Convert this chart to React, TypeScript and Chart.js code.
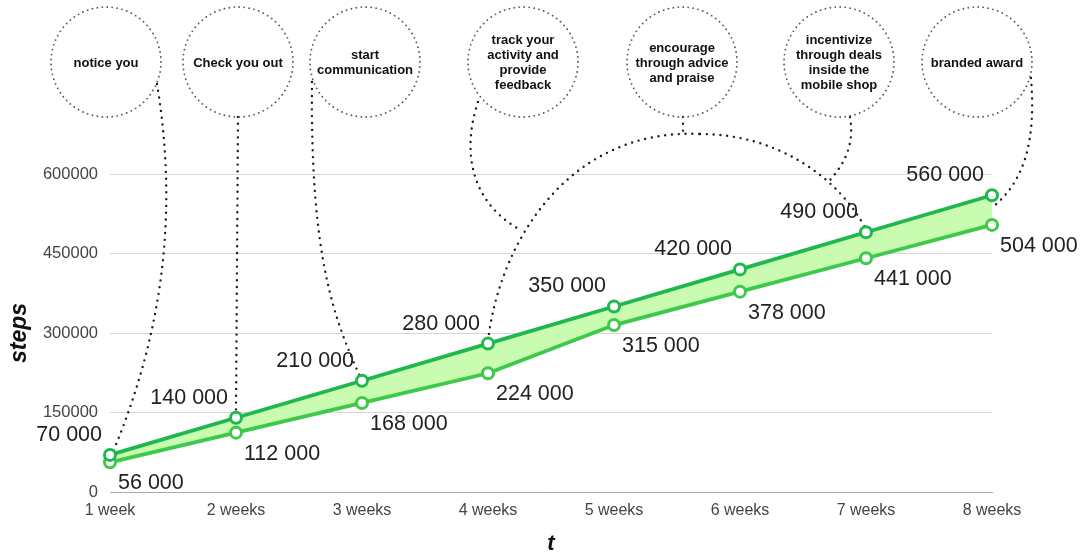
import React, { useEffect, useRef } from "react";
import { Chart, registerables } from "chart.js";

Chart.register(...registerables);

// ---- data ----
const weeks = ["1 week", "2 weeks", "3 weeks", "4 weeks", "5 weeks", "6 weeks", "7 weeks", "8 weeks"];
const stepsHigh = [70000, 140000, 210000, 280000, 350000, 420000, 490000, 560000];
const stepsLow = [56000, 112000, 168000, 224000, 315000, 378000, 441000, 504000];
const yTickStep = 150000;
const yMax = 600000;

const stageTexts: string[][] = [
  ["notice you"],
  ["Check you out"],
  ["start", "communication"],
  ["track your", "activity and", "provide", "feedback"],
  ["encourage", "through advice", "and praise"],
  ["incentivize", "through deals", "inside the", "mobile shop"],
  ["branded award"],
];

// ---- layout of the stage bubbles (canvas pixels) ----
const bubbleCenters = [106, 238, 365, 523, 682, 839, 977];
const bubbleY = 62;
const bubbleR = 55;

const FONT = "'Liberation Sans', Arial, Helvetica, sans-serif";
const HIGH_COLOR = "#1fb84f";
const LOW_COLOR = "#3dc94a";
const BAND_COLOR = "#c9fbb0";

const fmt = (n: number) => String(n).replace(/\B(?=(\d{3})+(?!\d))/g, " ");

const journeyPlugin = {
  id: "journey",
  beforeDatasetsDraw(chart: any) {
    const hi = chart.getDatasetMeta(0).data;
    const lo = chart.getDatasetMeta(1).data;
    const ctx: CanvasRenderingContext2D = chart.ctx;
    ctx.save();
    ctx.strokeStyle = "#1c1c1c";
    ctx.lineWidth = 2.4;
    ctx.lineCap = "round";
    ctx.setLineDash([0, 6.8]);

    const curve = (pts: number[]) => {
      ctx.beginPath();
      ctx.moveTo(pts[0], pts[1]);
      ctx.bezierCurveTo(pts[2], pts[3], pts[4], pts[5], pts[6], pts[7]);
      ctx.stroke();
    };
    const line = (x0: number, y0: number, x1: number, y1: number) => {
      ctx.beginPath();
      ctx.moveTo(x0, y0);
      ctx.lineTo(x1, y1);
      ctx.stroke();
    };

    // notice you -> week 1
    curve([157, 84, 176, 200, 168, 320, hi[0].x + 3, hi[0].y - 3]);
    // check you out -> week 2
    line(bubbleCenters[1], bubbleY + bubbleR, hi[1].x, hi[1].y - 4);
    // start communication -> week 3
    curve([312, 82, 310, 260, 335, 320, hi[2].x - 2, hi[2].y - 4]);
    // track & feedback -> joins the arc
    curve([478, 102, 462, 150, 470, 200, 517, 228]);
    // big arc: week 4 -> peak -> week 7
    curve([hi[3].x, hi[3].y - 3, 500, 240, 570, 128, 700, 134]);
    curve([700, 134, 780, 134, 840, 180, hi[6].x, hi[6].y - 3]);
    // encourage -> arc
    line(683, bubbleY + bubbleR, 683, 134);
    // incentivize -> arc
    curve([850, 117, 854, 140, 848, 160, 830, 180]);
    // branded award -> between the two week-8 points
    curve([1031, 78, 1036, 140, 1025, 180, hi[7].x + 2, (hi[7].y + lo[7].y) / 2 - 4]);
    ctx.restore();
  },
  afterDatasetsDraw(chart: any) {
    const hi = chart.getDatasetMeta(0).data;
    const lo = chart.getDatasetMeta(1).data;
    const ctx: CanvasRenderingContext2D = chart.ctx;
    ctx.save();
    ctx.font = `21.5px ${FONT}`;
    ctx.fillStyle = "#222";
    ctx.textBaseline = "middle";
    ctx.textAlign = "right";
    stepsHigh.forEach((v, i) => ctx.fillText(fmt(v), hi[i].x - 8, hi[i].y - 20));
    ctx.textAlign = "left";
    stepsLow.forEach((v, i) => ctx.fillText(fmt(v), lo[i].x + 8, lo[i].y + 21));
    ctx.restore();
  },
  afterDraw(chart: any) {
    const ctx: CanvasRenderingContext2D = chart.ctx;
    ctx.save();
    ctx.strokeStyle = "#5a5a5a";
    ctx.lineWidth = 1.9;
    ctx.lineCap = "round";
    ctx.setLineDash([0, 5]);
    bubbleCenters.forEach((cx) => {
      ctx.beginPath();
      ctx.arc(cx, bubbleY, bubbleR, 0, Math.PI * 2);
      ctx.stroke();
    });
    ctx.setLineDash([]);
    ctx.fillStyle = "#111";
    ctx.font = `bold 13px ${FONT}`;
    ctx.textAlign = "center";
    ctx.textBaseline = "middle";
    stageTexts.forEach((lines, i) => {
      const lh = 15;
      const y0 = bubbleY + 1 - ((lines.length - 1) * lh) / 2;
      lines.forEach((t, j) => ctx.fillText(t, bubbleCenters[i], y0 + j * lh));
    });
    ctx.restore();
  },
};

export default function App() {
  const canvasRef = useRef<HTMLCanvasElement | null>(null);

  useEffect(() => {
    if (!canvasRef.current) return;
    const chart = new Chart(canvasRef.current, {
      type: "line",
      data: {
        labels: weeks,
        datasets: [
          {
            label: "steps",
            data: stepsHigh,
            borderColor: HIGH_COLOR,
            backgroundColor: BAND_COLOR,
            borderWidth: 3.8,
            fill: "+1",
            pointRadius: 5.5,
            pointBorderWidth: 3,
            pointBackgroundColor: "#fff",
            pointBorderColor: HIGH_COLOR,
            tension: 0,
            clip: false as any,
          },
          {
            label: "steps (low)",
            data: stepsLow,
            borderColor: LOW_COLOR,
            backgroundColor: BAND_COLOR,
            borderWidth: 3.8,
            fill: false,
            pointRadius: 5.5,
            pointBorderWidth: 3,
            pointBackgroundColor: "#fff",
            pointBorderColor: LOW_COLOR,
            tension: 0,
            clip: false as any,
          },
        ],
      },
      options: {
        animation: false,
        responsive: true,
        maintainAspectRatio: false,
        layout: { padding: { top: 174, right: 91, left: 0, bottom: 0 } },
        plugins: {
          legend: { display: false },
          tooltip: { enabled: false },
          filler: { drawTime: "beforeDatasetsDraw" } as any,
        },
        scales: {
          x: {
            grid: { display: false, drawTicks: false },
            border: { display: true, color: "#aaa", width: 1 },
            ticks: { color: "#444", padding: 9, font: { family: FONT, size: 16 } },
            title: {
              display: true,
              text: "t",
              color: "#111",
              font: { family: FONT, size: 22, weight: "bold", style: "italic", lineHeight: 1 },
              padding: 0,
            },
            afterFit: (s: any) => {
              s.height = 63;
            },
          },
          y: {
            min: 0,
            max: yMax,
            grid: { color: "#d6d6d6", drawTicks: false },
            border: { display: false },
            ticks: {
              stepSize: yTickStep,
              padding: 12,
              color: "#444",
              font: { family: FONT, size: 16.5 },
              callback: (v: any) => String(v),
            },
            title: {
              display: true,
              text: "steps",
              color: "#111",
              font: { family: FONT, size: 23, weight: "bold", style: "italic", lineHeight: 1.2 },
              padding: { top: 6, bottom: 0 },
            },
            afterFit: (s: any) => {
              s.width = 110;
            },
          },
        },
      },
      plugins: [journeyPlugin],
    });
    return () => chart.destroy();
  }, []);

  return (
    <div style={{ position: "fixed", left: 0, top: 0, width: 1083, height: 555, background: "#fff" }}>
      <canvas ref={canvasRef} />
    </div>
  );
}
